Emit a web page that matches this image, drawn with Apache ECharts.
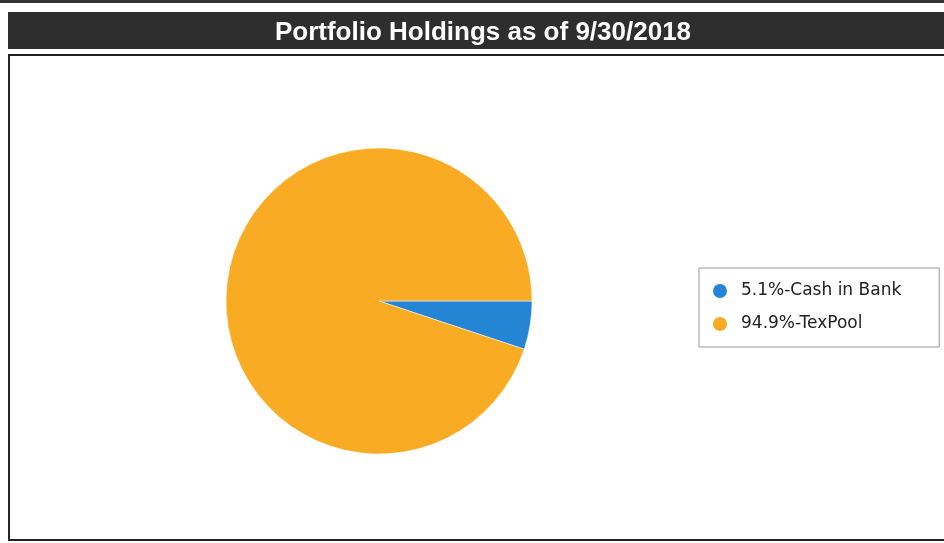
<!DOCTYPE html>
<html><head><meta charset="utf-8">
<script src="https://cdn.jsdelivr.net/npm/echarts@6/dist/echarts.min.js"></script>
<style>html,body{margin:0;padding:0;background:#fff}#c{width:944px;height:543px}</style>
</head><body><div id="c"></div>
<script>
const categories = ["Cash in Bank", "TexPool"];
const values = [5.1, 94.9];
const colors = ["#2585d5", "#f8ab23"];
const titleText = "Portfolio Holdings as of 9/30/2018";

const chart = echarts.init(document.getElementById('c'));
chart.setOption({
  backgroundColor: '#fff',
  animation: false,
  title: {
    text: titleText, left: 478, top: 13, textAlign: 'center',
    textStyle: {color: '#fff', fontFamily: 'Liberation Sans', fontWeight: 'bold', fontSize: 26, lineHeight: 30}
  },
  graphic: [
    {type: 'rect', z: -1, shape: {x: 0, y: 0, width: 944, height: 3}, style: {fill: '#333'}},
    {type: 'rect', z: -1, shape: {x: 8, y: 12, width: 936, height: 37}, style: {fill: '#2e2e2e'}},
    {type: 'rect', z: -1, shape: {x: 9, y: 55, width: 940, height: 485}, style: {fill: 'none', stroke: '#222', lineWidth: 2}}
  ],
  legend: {
    orient: 'vertical', left: 699, top: 268,
    borderColor: '#999', borderWidth: 1, padding: [14, 38, 14, 12],
    itemGap: 15, itemWidth: 16, itemHeight: 16, icon: 'circle',
    data: categories,
    formatter: function (name) {
      const i = categories.indexOf(name);
      return values[i].toFixed(1) + '%-' + name;
    },
    textStyle: {fontFamily: 'DejaVu Sans', fontSize: 17, color: '#222', padding: [0, 0, 0, 8]}
  },
  series: [{
    type: 'pie', center: [379, 301], radius: 153,
    startAngle: 0, clockwise: true,
    label: {show: false}, labelLine: {show: false},
    itemStyle: {borderColor: '#fff', borderWidth: 0.5},
    data: categories.map((n, i) => ({name: n, value: values[i], itemStyle: {color: colors[i]}}))
  }]
});
</script></body></html>
